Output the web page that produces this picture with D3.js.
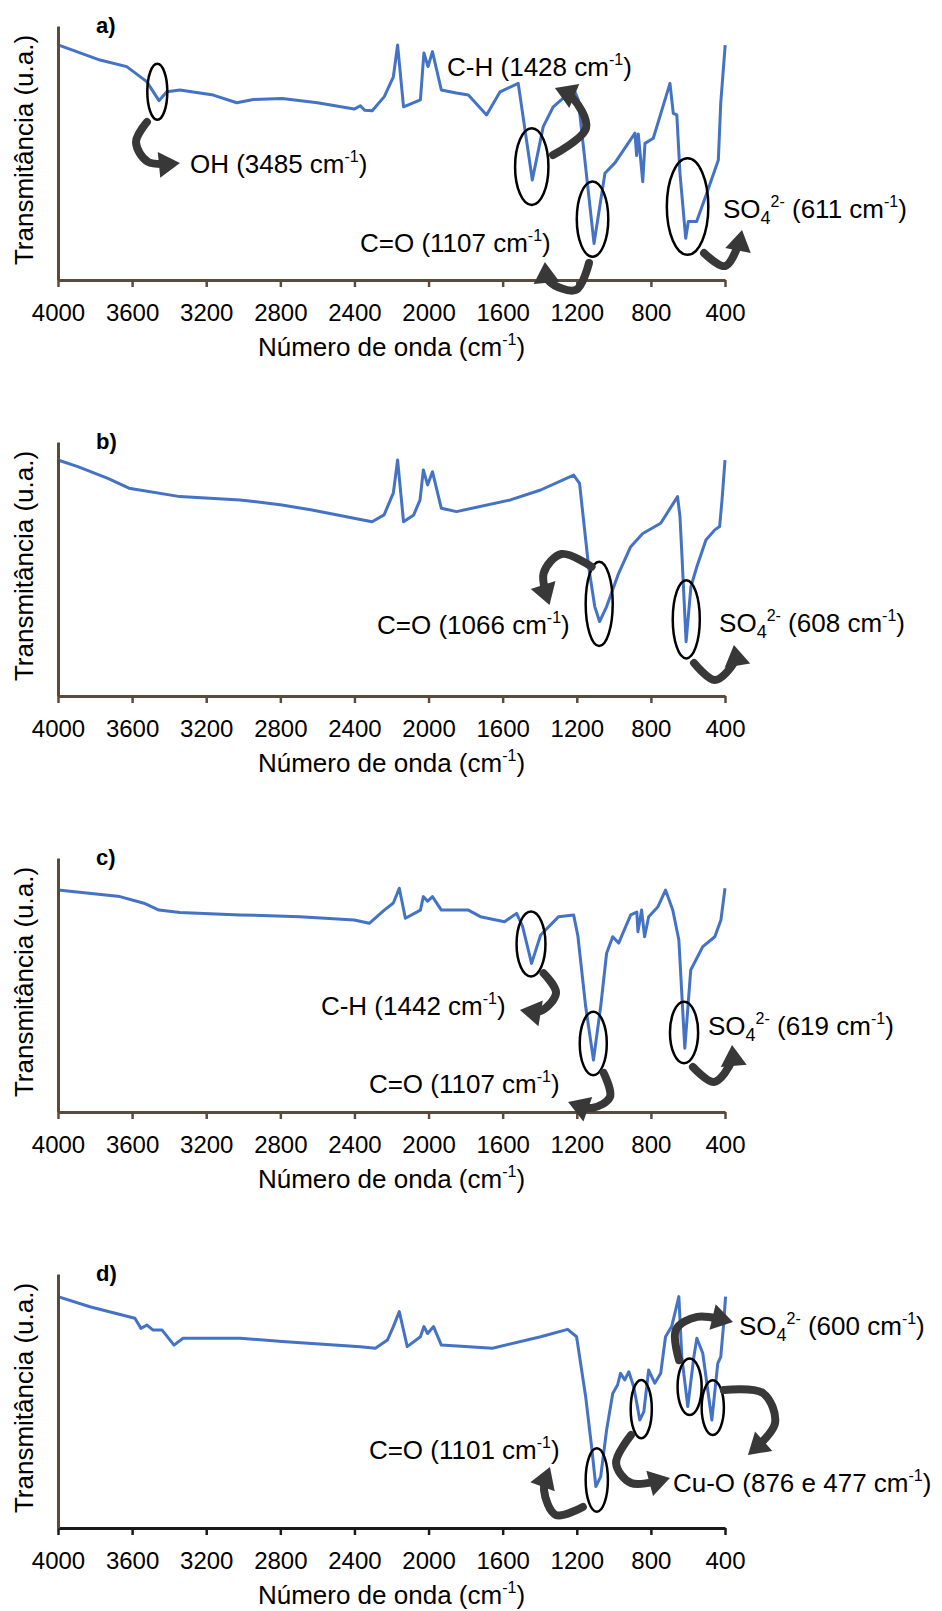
<!DOCTYPE html>
<html>
<head>
<meta charset="utf-8">
<script src="https://cdn.jsdelivr.net/npm/d3@7"></script>
<style>
  html, body { margin: 0; padding: 0; background: #fff; }
  svg { display: block; }
  text { font-family: "Liberation Sans", Arial, Helvetica, sans-serif; white-space: pre; }
</style>
</head>
<body>
<svg id="chart" width="942" height="1611"></svg>
<script>
// ---------- shared axis content ----------
const xTicks = [4000, 3600, 3200, 2800, 2400, 2000, 1600, 1200, 800, 400];
const panelNames = ["a)", "b)", "c)", "d)"];
const xTitle = "Número de onda (cm^{-1})";
const yTitle = "Transmitância (u.a.)";

// ---------- FTIR spectra (wavenumber in cm-1, transmittance in arbitrary units 0-100) ----------
const wavenumberA = [3996, 3773, 3629, 3521, 3455, 3413, 3342, 3162, 3035, 2946,
  2790, 2600, 2401, 2368, 2345, 2304, 2239, 2190, 2167, 2135,
  2044, 2025, 2003, 1979, 1931, 1850, 1785, 1687, 1614, 1516,
  1440, 1381, 1327, 1264, 1210, 1192, 1107, 1048, 994, 886,
  877, 868, 844, 832, 787, 697, 679, 660, 643, 612,
  598, 553, 499, 436, 423, 399];
const transmittanceA = [92.5, 86.6, 84, 78.1, 70.6, 74.1, 74.8, 72.8, 69.8, 71.1,
  71.5, 69.8, 67.3, 68.6, 66.8, 66.6, 72.2, 80, 92.5, 68.2,
  70.9, 89.4, 84, 89.9, 74.8, 73.6, 72.8, 65, 74.1, 77.4,
  39.4, 60.4, 68.2, 72.2, 74.1, 70.9, 14.4, 42, 46.1, 57.8,
  49, 57.5, 38.7, 53.8, 55.8, 77.4, 65.6, 65, 42, 16.4,
  23, 23, 34.1, 47.2, 69.6, 92.5];

const wavenumberB = [4000, 3893, 3731, 3617, 3342, 3018, 2791, 2629, 2402, 2305,
  2240, 2190, 2167, 2135, 2080, 2046, 2028, 2005, 1979, 1931,
  1849, 1558, 1395, 1217, 1185, 1136, 1103, 1077, 1039, 974,
  909, 844, 747, 656, 643, 633, 610, 584, 552, 503,
  455, 429, 416, 400];
const transmittanceB = [92.9, 90.3, 85.7, 81.8, 78.5, 77.2, 75.2, 73.2, 70, 68.6,
  71.3, 80, 92.9, 68.6, 71.3, 77.2, 89, 83.1, 88.3, 73.9,
  72.6, 77.2, 81.1, 87, 83.7, 50.9, 35.2, 29.3, 35.2, 48.3,
  58.8, 64, 68, 78.5, 70.6, 56.2, 21.4, 43, 50.9, 61.4,
  65.4, 66.7, 77.2, 92.9];

const wavenumberC = [4000, 3666, 3536, 3455, 3342, 3018, 2694, 2401, 2320, 2239,
  2190, 2158, 2125, 2044, 2028, 2005, 1979, 1931, 1785, 1720,
  1590, 1525, 1493, 1444, 1395, 1298, 1217, 1194, 1152, 1110,
  1071, 1039, 1006, 974, 909, 876, 870, 850, 834, 812,
  763, 721, 682, 649, 617, 585, 520, 455, 422, 400];
const transmittanceC = [87.4, 84.8, 82.2, 79.5, 78.5, 77.6, 76.9, 75.6, 74.3, 79.5,
  82.3, 88.1, 76.3, 79.5, 84.8, 83, 84.8, 79.5, 79.5, 76.9,
  74.9, 78.2, 73.2, 58.5, 69.7, 76.9, 77.6, 69.3, 41.5, 20.5,
  41.5, 62.5, 69, 66.5, 77.6, 78.7, 71, 79.5, 69, 76.9,
  80.7, 87.4, 79.5, 67.7, 25.1, 55.9, 65.1, 69, 75.6, 88.1];

const wavenumberD = [4000, 3828, 3617, 3585, 3552, 3520, 3488, 3439, 3374, 3325,
  3017, 2790, 2368, 2287, 2222, 2190, 2158, 2115, 2044, 2025,
  2005, 1973, 1931, 1655, 1395, 1249, 1201, 1152, 1120, 1097,
  1071, 1039, 1006, 980, 964, 941, 919, 893, 876, 860,
  838, 812, 779, 747, 721, 688, 649, 633, 601, 568,
  552, 520, 471, 439, 423, 407, 397];
const transmittanceD = [91.1, 87.1, 83.2, 82.6, 78.6, 79.9, 78, 78, 72, 74.7,
  74.7, 73.4, 71.4, 70.8, 74, 79.3, 85.2, 71.4, 75.3, 79.3,
  76.6, 79.3, 72, 70.8, 75.3, 78.2, 75.3, 51.7, 32, 16.3,
  20.2, 38.6, 53, 56.3, 60.9, 58.3, 61.5, 55.6, 49.1, 42.5,
  45.8, 62.2, 57, 60.9, 75.3, 79.3, 91.1, 67.4, 47.8, 67.4,
  74.7, 68.8, 42.5, 64.8, 67.4, 80.6, 91.1];

// ---------- band annotations (all in data units: cm-1 and transmittance) ----------
// ellipse: centre (wn, t), half-width rw (cm-1), half-height rt
const ellipsesA = [
  { wn: 3464, t: 74.1, rw: 54, rt: 11 },
  { wn: 1443, t: 44.6, rw: 90, rt: 15.1 },
  { wn: 1115, t: 24, rw: 85, rt: 14.8 },
  { wn: 602, t: 28.9, rw: 112, rt: 19 }
];
const arrowsA = [
  [[3520, 62.2], [3579, 54.3], [3514, 46.5], [3342, 46.1]],
  [[1328, 49.2], [1150, 59.8], [1226, 72], [1318, 75.6]],
  [[1134, 6.7], [1204, -3.9], [1350, -0.4], [1372, 7.1]],
  [[513, 10.6], [400, 5.5], [324, 14.6], [308, 19.7]]
];
const labelsA = [
  { wn: 3288, t: 42.1, text: "OH (3485 cm^{-1})" },
  { wn: 1900, t: 80.3, text: "C-H (1428 cm^{-1})" },
  { wn: 2370, t: 11, text: "C=O (1107 cm^{-1})" },
  { wn: 411, t: 24.4, text: "SO_{4}^{2-} (611 cm^{-1})" }
];

const ellipsesB = [
  { wn: 1079, t: 36.3, rw: 73, rt: 16.6 },
  { wn: 609, t: 30.2, rw: 73, rt: 15.4 }
];
const arrowsB = [
  [[1120, 50.9], [1282, 55.9], [1379, 48.3], [1347, 35.8]],
  [[567, 13], [454, 6.3], [346, 14.2], [352, 20.1]]
];
const labelsB = [
  { wn: 2278, t: 24.4, text: "C=O (1066 cm^{-1})" },
  { wn: 432, t: 25.2, text: "SO_{4}^{2-} (608 cm^{-1})" }
];

const ellipsesC = [
  { wn: 1447, t: 66.1, rw: 78, rt: 12.8 },
  { wn: 1111, t: 27, rw: 73, rt: 12.5 },
  { wn: 621, t: 31.3, rw: 76, rt: 12.1 }
];
const arrowsC = [
  [[1379, 54.6], [1312, 46.9], [1393, 39.8], [1507, 40.2]],
  [[1055, 15.4], [1021, 5.9], [1118, 1.6], [1247, 3.9]],
  [[573, 17.7], [460, 11.8], [362, 20.5], [362, 26.4]]
];
const labelsC = [
  { wn: 2581, t: 38.2, text: "C-H (1442 cm^{-1})" },
  { wn: 2322, t: 7.5, text: "C=O (1107 cm^{-1})" },
  { wn: 492, t: 30.3, text: "SO_{4}^{2-} (619 cm^{-1})" }
];

const ellipsesD = [
  { wn: 1092, t: 18.9, rw: 60, rt: 12.5 },
  { wn: 852, t: 46.8, rw: 57, rt: 11.5 },
  { wn: 591, t: 55.6, rw: 65, rt: 11.1 },
  { wn: 466, t: 47.4, rw: 60, rt: 10.8 }
];
const arrowsD = [
  [[1167, 8.3], [1312, 5.1], [1377, 15], [1345, 24]],
  [[907, 36.6], [988, 25.6], [907, 17.7], [697, 19.7]],
  [[648, 66.1], [665, 78], [551, 83.1], [357, 81.1]],
  [[406, 54.3], [195, 53.1], [130, 41.3], [276, 28.7]]
];
const labelsD = [
  { wn: 2322, t: 27.2, text: "C=O (1101 cm^{-1})" },
  { wn: 681, t: 14.2, text: "Cu-O (876 e 477 cm^{-1})" },
  { wn: 325, t: 76, text: "SO_{4}^{2-} (600 cm^{-1})" }
];

// ---------- styling ----------
const lineColor = "#4472c4";
const axisBrown = "#5a4b3b";
const arrowColor = "#383838";

const panels = [
  { name: panelNames[0], wn: wavenumberA, t: transmittanceA, ellipses: ellipsesA, arrows: arrowsA, labels: labelsA, xAxisColor: axisBrown },
  { name: panelNames[1], wn: wavenumberB, t: transmittanceB, ellipses: ellipsesB, arrows: arrowsB, labels: labelsB, xAxisColor: axisBrown },
  { name: panelNames[2], wn: wavenumberC, t: transmittanceC, ellipses: ellipsesC, arrows: arrowsC, labels: labelsC, xAxisColor: axisBrown },
  { name: panelNames[3], wn: wavenumberD, t: transmittanceD, ellipses: ellipsesD, arrows: arrowsD, labels: labelsD, xAxisColor: "#1a1a1a" }
];

// ---------- layout ----------
const W = 942, H = 1611;
const plotLeft = 58, plotRight = 725;
const firstTop = 26, panelStep = 416, plotH = 254;

const svg = d3.select("#chart");
svg.append("rect").attr("width", W).attr("height", H).attr("fill", "#fff");

const x = d3.scaleLinear().domain([4000, 400]).range([plotLeft, plotRight]);
const y = d3.scaleLinear().domain([0, 100]).range([plotH, 0]);

// text with ^{superscript} and _{subscript} runs
function richText(sel, str, baseSize) {
  const parts = str.split(/(\^\{[^}]*\}|_\{[^}]*\})/).filter(s => s.length);
  let shift = 0;
  parts.forEach(part => {
    let txt = part, off = 0, size = baseSize;
    if (part.startsWith("^{")) { txt = part.slice(2, -1); off = -Math.round(baseSize * 0.42); size = Math.round(baseSize * 0.62); }
    else if (part.startsWith("_{")) { txt = part.slice(2, -1); off = Math.round(baseSize * 0.24); size = Math.round(baseSize * 0.68); }
    const ts = sel.append("tspan").attr("font-size", size).text(txt);
    if (off - shift !== 0) ts.attr("dy", off - shift);
    shift = off;
  });
}

const spectrumLine = d3.line().x(d => x(d[0])).y(d => y(d[1]));
const arrowCurve = d3.line().curve(d3.curveCatmullRom.alpha(0.5));

// thick curved pointer ending in a filled head at the last point
function drawArrow(g, pts) {
  const px = pts.map(d => [x(d[0]), y(d[1])]);
  const path = g.append("path")
    .attr("d", arrowCurve(px))
    .attr("fill", "none")
    .attr("stroke", arrowColor)
    .attr("stroke-width", 8)
    .attr("stroke-linecap", "round");
  const node = path.node();
  const L = node.getTotalLength();
  const tip = node.getPointAtLength(L);
  const back = node.getPointAtLength(Math.max(0, L - 10));
  const ang = Math.atan2(tip.y - back.y, tip.x - back.x);
  path.attr("stroke-dasharray", `${Math.max(0, L - 15)} ${L}`);
  const len = 21, hw = 13;
  const bx = tip.x - len * Math.cos(ang), by = tip.y - len * Math.sin(ang);
  const nx = -Math.sin(ang), ny = Math.cos(ang);
  g.append("path")
    .attr("d", `M${tip.x},${tip.y}L${bx + nx * hw},${by + ny * hw}L${bx - nx * hw},${by - ny * hw}Z`)
    .attr("fill", arrowColor);
}

panels.forEach((p, i) => {
  const g = svg.append("g").attr("transform", `translate(0,${firstTop + i * panelStep})`);

  // spectrum
  const pts = p.wn.map((w, k) => [w, p.t[k]]);
  g.append("path")
    .attr("d", spectrumLine(pts))
    .attr("fill", "none")
    .attr("stroke", lineColor)
    .attr("stroke-width", 3)
    .attr("stroke-linejoin", "round");

  // x axis
  const xa = g.append("g")
    .attr("transform", `translate(0,${plotH})`)
    .call(d3.axisBottom(x).tickValues(xTicks).tickSize(7).tickSizeOuter(0).tickFormat(d3.format("d")));
  xa.select(".domain").attr("stroke", p.xAxisColor).attr("stroke-width", 3);
  xa.selectAll(".tick line").attr("stroke", p.xAxisColor).attr("stroke-width", 2.5);
  xa.selectAll(".tick text")
    .attr("y", 41).attr("dy", null)
    .attr("fill", "#000")
    .attr("font-size", 24)
    .attr("font-family", "Liberation Sans, Arial, sans-serif");

  // y axis (line only)
  const ya = g.append("g")
    .attr("transform", `translate(${plotLeft},0)`)
    .call(d3.axisLeft(y).tickValues([]).tickSizeOuter(0));
  ya.select(".domain").attr("stroke", axisBrown).attr("stroke-width", 3);

  // axis titles
  const xt = g.append("text")
    .attr("x", (plotLeft + plotRight) / 2)
    .attr("y", plotH + 76)
    .attr("text-anchor", "middle")
    .attr("font-size", 26)
    .attr("fill", "#000");
  richText(xt, xTitle, 26);

  g.append("text")
    .attr("transform", `translate(33,${plotH / 2 - 3}) rotate(-90)`)
    .attr("text-anchor", "middle")
    .attr("font-size", 26)
    .attr("fill", "#000")
    .text(yTitle);

  // panel letter
  g.append("text")
    .attr("x", 96).attr("y", 7)
    .attr("font-size", 22)
    .attr("font-weight", "bold")
    .attr("fill", "#000")
    .text(p.name);

  // band ellipses
  p.ellipses.forEach(e => {
    g.append("ellipse")
      .attr("cx", x(e.wn)).attr("cy", y(e.t))
      .attr("rx", Math.abs(x(e.wn + e.rw) - x(e.wn)))
      .attr("ry", Math.abs(y(e.t + e.rt) - y(e.t)))
      .attr("fill", "none")
      .attr("stroke", "#000")
      .attr("stroke-width", 2.5);
  });

  // curved arrows
  p.arrows.forEach(a => drawArrow(g, a));

  // band labels
  p.labels.forEach(l => {
    const t = g.append("text")
      .attr("x", x(l.wn)).attr("y", y(l.t))
      .attr("font-size", 26)
      .attr("fill", "#000");
    richText(t, l.text, 26);
  });
});
</script>
</body>
</html>
